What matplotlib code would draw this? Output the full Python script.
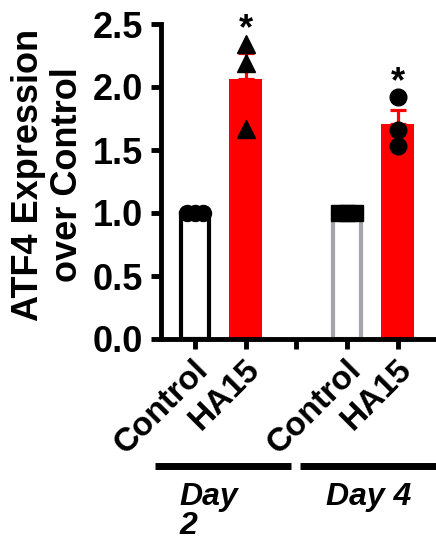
import numpy as np
import matplotlib
matplotlib.use("Agg")
import matplotlib.pyplot as plt
import matplotlib.transforms as mtransforms

plt.rcParams['font.family'] = ['Liberation Sans', 'DejaVu Sans']
plt.rcParams['font.weight'] = 'bold'

# ATF4 expression relative to control
tick_labels = ["Control", "HA15", "", "Control", "HA15"]
ctrl_day2 = [1.0, 1.0, 1.0]
ha15_day2 = [2.345, 2.19, 1.667]
ctrl_day4 = [1.0, 1.0, 1.0]
ha15_day4 = [1.92, 1.66, 1.53]
groups = ["Day 2", "Day 4"]

fig = plt.figure(figsize=(4.36, 5.42), dpi=100)
ax = fig.add_axes([161 / 436, 1 - 339 / 542, 1 - 161 / 436, 315 / 542])


def sem(v):
    v = np.asarray(v)
    return v.std(ddof=1) / np.sqrt(len(v))


# control bars: white with coloured border, HA15 bars: solid red
ax.bar(0, np.mean(ctrl_day2), width=0.55, color='white', edgecolor='black', linewidth=3, zorder=2)
ax.bar(3, np.mean(ctrl_day4), width=0.55, color='white', edgecolor='#a4a4aa', linewidth=3, zorder=2)
for x, vals in [(1, ha15_day2), (4, ha15_day4)]:
    m = np.mean(vals)
    ax.bar(x, m, width=0.65, color='#ff0000', zorder=2)
    ax.errorbar(x, m, yerr=[[0], [sem(vals)]], color='#ff0000', elinewidth=2.3,
                capsize=6, capthick=2.3, zorder=3)

# individual points
ax.plot(np.array([-0.16, 0, 0.16]), ctrl_day2, 'o', color='black', ms=11.5, zorder=4, clip_on=False)
ax.plot([1] * 3, ha15_day2, '^', color='black', ms=12.5, zorder=4, clip_on=False)
ax.plot(np.array([2.84, 3, 3.16]), ctrl_day4, 's', color='black', ms=11.5, zorder=4, clip_on=False)
ax.plot([4] * 3, ha15_day4, 'o', color='black', ms=12, zorder=4, clip_on=False)

# significance stars
for x, vals in [(1, ha15_day2), (4, ha15_day4)]:
    ax.text(x, max(vals) + 0.035, '*', ha='center', va='baseline', fontsize=26,
            fontweight='bold', clip_on=False)

ax.set_xlim(-0.67, 4.75)
ax.set_ylim(0, 2.5)
ax.set_yticks([0, 0.5, 1.0, 1.5, 2.0, 2.5])
ax.set_yticklabels(['0.0', '0.5', '1.0', '1.5', '2.0', '2.5'])
ax.set_xticks(range(5))
ax.set_xticklabels(tick_labels, rotation=45, ha='right', rotation_mode='anchor')
ax.tick_params(axis='both', width=3.5, length=7, labelsize=26, pad=6)
ax.tick_params(axis='x', labelsize=24)
for lab in ax.get_xticklabels():
    lab.set_transform(lab.get_transform() + mtransforms.ScaledTranslation(-2 / 100, 3 / 100, fig.dpi_scale_trans))

for s in ['top', 'right']:
    ax.spines[s].set_visible(False)
for s in ['left', 'bottom']:
    ax.spines[s].set_linewidth(3.5)

fig.text(48 / 436, 1 - 175 / 542, 'ATF4 Expression\nover Control', rotation=90,
         ha='center', va='center', fontsize=26, fontweight='bold', linespacing=1.15)

# group lines under the tick labels
trans = mtransforms.blended_transform_factory(ax.transData, fig.transFigure)
line_y = 1 - 466 / 542
ax.plot([-0.79, 1.9], [line_y] * 2, color='black', lw=5, transform=trans, clip_on=False, solid_capstyle='butt')
ax.plot([2.06, 4.8], [line_y] * 2, color='black', lw=5, transform=trans, clip_on=False, solid_capstyle='butt')
text_y = 1 - 505 / 542
# "Day 2" wraps onto two lines in the original
for i, word in enumerate(groups[0].split()):
    ax.text(-0.3, text_y - i * 29 / 542, word, transform=trans, ha='left', va='baseline', fontsize=23,
            fontweight='bold', fontstyle='italic')
ax.text(3.42, text_y, groups[1], transform=trans, ha='center', va='baseline', fontsize=23,
        fontweight='bold', fontstyle='italic')

fig.savefig('out.png', dpi=100)
